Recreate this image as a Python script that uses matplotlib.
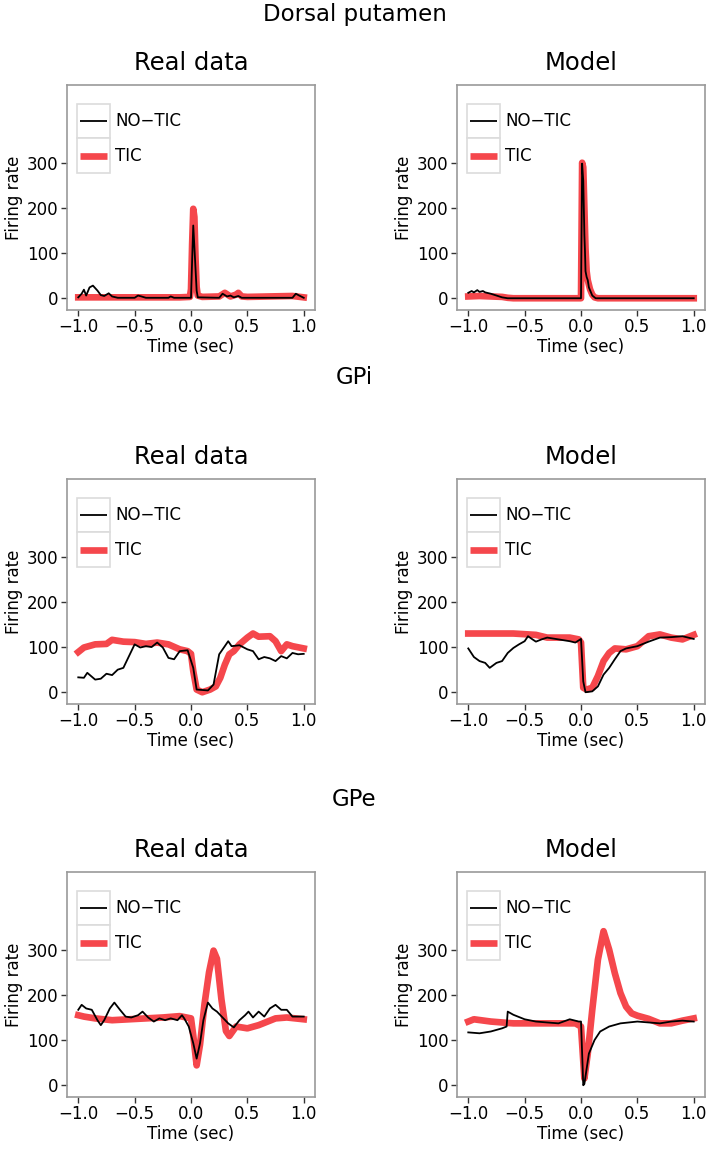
import matplotlib
matplotlib.use("Agg")
import matplotlib.pyplot as plt
from matplotlib.legend_handler import HandlerBase
from matplotlib.patches import Rectangle
from matplotlib.lines import Line2D

plt.rcParams['font.family'] = ['DejaVu Sans']

RED = '#F5474C'
GRAY = '#9a9a9a'

row_titles = ["Dorsal putamen", "GPi", "GPe"]
col_titles = ["Real data", "Model"]

# ---------------- Dorsal putamen ----------------
put_real_tic_x = [-1.0, -0.5, -0.1, -0.01, 0.0, 0.01, 0.02, 0.03, 0.04, 0.05, 0.06, 0.1,
                  0.25, 0.3, 0.35, 0.4, 0.42, 0.45, 0.5, 0.7, 0.9, 1.0]
put_real_tic_y = [2, 2, 2, 3, 20, 120, 198, 180, 90, 25, 6, 3,
                  4, 12, 4, 8, 12, 4, 3, 4, 5, 2]
put_real_no_x = [-1.0, -0.97, -0.95, -0.93, -0.9, -0.87, -0.83, -0.8, -0.77, -0.73, -0.7, -0.65,
                 -0.5, -0.47, -0.44, -0.4, -0.2, -0.18, -0.15, 0.0, 0.01, 0.02, 0.035, 0.05,
                 0.06, 0.25, 0.28, 0.32, 0.35, 0.38, 0.42, 0.45, 0.9, 0.93, 0.96, 1.0]
put_real_no_y = [2, 10, 19, 6, 24, 28, 17, 7, 5, 11, 4, 1,
                 1, 6, 4, 1, 1, 4, 1, 1, 84, 161, 90, 17,
                 2, 1, 10, 4, 6, 2, 5, 1, 1, 10, 6, 1]

put_model_tic_x = [-1.0, -0.9, -0.8, -0.7, -0.65, -0.6, 0.0, 0.005, 0.01, 0.02, 0.03, 0.04,
                   0.05, 0.06, 0.08, 0.1, 0.12, 0.15, 1.0]
put_model_tic_y = [4, 5, 4, 3, 1, 0, 0, 150, 300, 290, 200, 110,
                   60, 40, 20, 8, 2, 0, 0]
put_model_no_x = [-1.0, -0.97, -0.95, -0.92, -0.9, -0.87, -0.85, -0.8, -0.75, -0.7, -0.65, 0.0,
                  0.005, 0.01, 0.02, 0.03, 0.035, 0.04, 0.05, 0.06, 0.07, 0.1, 0.13, 1.0]
put_model_no_y = [12, 16, 13, 18, 14, 16, 13, 10, 6, 2, 0, 0,
                  150, 298, 260, 140, 106, 60, 47, 40, 24, 6, 0, 0]

# ---------------- GPi ----------------
gpi_real_tic_x = [-1, -0.95, -0.85, -0.75, -0.7, -0.6, -0.5, -0.4, -0.3, -0.2, -0.1, -0.03,
                  0.0, 0.02, 0.05, 0.1, 0.17, 0.22, 0.26, 0.3, 0.34, 0.38, 0.43, 0.5,
                  0.55, 0.6, 0.7, 0.75, 0.8, 0.85, 0.9, 1.0]
gpi_real_tic_y = [89, 99, 106, 107, 116, 112, 111, 107, 110, 106, 95, 91,
                  85, 47, 6, 0, 6, 13, 32, 61, 84, 91, 106, 121,
                  130, 123, 124, 113, 91, 106, 102, 97]
gpi_real_no_x = [-1, -0.95, -0.92, -0.85, -0.8, -0.75, -0.7, -0.65, -0.6, -0.55, -0.5, -0.45,
                 -0.4, -0.35, -0.3, -0.25, -0.2, -0.15, -0.1, -0.03, 0.02, 0.05, 0.15, 0.2,
                 0.25, 0.3, 0.33, 0.36, 0.43, 0.5, 0.55, 0.6, 0.65, 0.7, 0.75, 0.8,
                 0.85, 0.9, 0.95, 1.0]
gpi_real_no_y = [33, 32, 43, 28, 30, 41, 38, 50, 54, 80, 106, 99,
                 102, 100, 110, 99, 76, 73, 91, 93, 54, 6, 4, 17,
                 84, 102, 113, 102, 104, 95, 91, 73, 78, 75, 69, 80,
                 75, 87, 84, 85]

gpi_model_tic_x = [-1, -0.8, -0.6, -0.4, -0.3, -0.1, -0.02, 0.0, 0.02, 0.05, 0.1, 0.15,
                   0.2, 0.25, 0.3, 0.4, 0.5, 0.6, 0.7, 0.8, 0.9, 1.0]
gpi_model_tic_y = [130, 130, 130, 127, 121, 121, 117, 110, 10, 6, 10, 36,
                   69, 87, 97, 95, 102, 124, 128, 121, 117, 127]
gpi_model_no_x = [-1, -0.95, -0.9, -0.85, -0.81, -0.75, -0.7, -0.65, -0.6, -0.55, -0.5, -0.47,
                  -0.43, -0.4, -0.35, -0.3, -0.2, -0.1, -0.05, 0.0, 0.02, 0.04, 0.1, 0.15,
                  0.2, 0.25, 0.3, 0.35, 0.4, 0.5, 0.6, 0.7, 0.8, 0.9, 1.0]
gpi_model_no_y = [97, 78, 69, 65, 54, 65, 69, 87, 98, 106, 113, 124,
                  117, 112, 117, 121, 117, 113, 110, 118, 24, 0, 2, 13,
                  39, 54, 73, 91, 97, 102, 112, 121, 122, 124, 118]

# ---------------- GPe ----------------
gpe_real_tic_x = [-1, -0.95, -0.85, -0.7, -0.55, -0.4, -0.25, -0.1, 0.0, 0.02, 0.05, 0.08,
                  0.12, 0.16, 0.2, 0.23, 0.27, 0.31, 0.34, 0.4, 0.5, 0.6, 0.75, 0.85, 1.0]
gpe_real_tic_y = [155, 152, 148, 144, 146, 148, 150, 153, 148, 110, 44, 90,
                  180, 250, 298, 280, 190, 120, 109, 130, 126, 133, 148, 150, 146]
gpe_real_no_x = [-1, -0.97, -0.93, -0.88, -0.83, -0.8, -0.77, -0.72, -0.68, -0.63, -0.58, -0.53,
                 -0.47, -0.43, -0.38, -0.33, -0.28, -0.23, -0.18, -0.12, -0.08, -0.06, -0.02, 0.02,
                 0.05, 0.08, 0.11, 0.15, 0.19, 0.23, 0.28, 0.33, 0.38, 0.43, 0.48, 0.51,
                 0.55, 0.6, 0.65, 0.7, 0.75, 0.8, 0.85, 0.9, 1.0]
gpe_real_no_y = [167, 178, 170, 167, 144, 133, 144, 170, 183, 167, 152, 150,
                 155, 163, 150, 141, 148, 144, 148, 144, 155, 148, 130, 93,
                 59, 93, 144, 183, 170, 163, 150, 137, 128, 144, 155, 163,
                 150, 163, 152, 170, 178, 167, 167, 152, 152]

gpe_model_tic_x = [-1, -0.95, -0.8, -0.6, -0.4, -0.2, -0.05, 0.0, 0.03, 0.06, 0.1, 0.15,
                   0.2, 0.25, 0.3, 0.35, 0.4, 0.45, 0.5, 0.6, 0.7, 0.8, 0.9, 1.0]
gpe_model_tic_y = [141, 146, 141, 137, 137, 137, 137, 130, 15, 70, 167, 278,
                   341, 300, 248, 204, 174, 159, 154, 147, 137, 137, 143, 148]
gpe_model_no_x = [-1, -0.9, -0.8, -0.7, -0.66, -0.65, -0.6, -0.5, -0.4, -0.3, -0.2, -0.1,
                  -0.02, 0.0, 0.02, 0.03, 0.07, 0.12, 0.17, 0.25, 0.35, 0.5, 0.6, 0.7,
                  0.8, 0.9, 1.0]
gpe_model_no_y = [117, 115, 119, 126, 130, 163, 156, 146, 141, 139, 137, 146,
                  141, 141, 0, 3, 70, 100, 119, 130, 137, 141, 139, 137,
                  141, 143, 141]

panels = [
    [(put_real_tic_x, put_real_tic_y, put_real_no_x, put_real_no_y),
     (put_model_tic_x, put_model_tic_y, put_model_no_x, put_model_no_y)],
    [(gpi_real_tic_x, gpi_real_tic_y, gpi_real_no_x, gpi_real_no_y),
     (gpi_model_tic_x, gpi_model_tic_y, gpi_model_no_x, gpi_model_no_y)],
    [(gpe_real_tic_x, gpe_real_tic_y, gpe_real_no_x, gpe_real_no_y),
     (gpe_model_tic_x, gpe_model_tic_y, gpe_model_no_x, gpe_model_no_y)],
]


class BoxedKey(HandlerBase):
    # ggplot-like legend key: light grey square with the line inside
    def create_artists(self, legend, orig_handle, xdescent, ydescent,
                       width, height, fontsize, trans):
        rect = Rectangle((-xdescent, -ydescent), width, height,
                         facecolor='white', edgecolor='#dcdcdc', lw=1.2,
                         transform=trans)
        yc = -ydescent + height / 2
        line = Line2D([-xdescent + 0.1 * width, -xdescent + 0.9 * width], [yc, yc],
                      color=orig_handle.get_color(), lw=orig_handle.get_linewidth(),
                      solid_capstyle='butt', transform=trans)
        return [rect, line]


W, H = 709, 1149
fig = plt.figure(figsize=(W / 100, H / 100), dpi=100)

lefts = [67, 457]
tops = [85, 479, 872]
row_title_y = [14, 378, 800]
ax_w, ax_h = 248, 225
FS = 12

for r in range(3):
    fig.text(0.5, 1 - row_title_y[r] / H, row_titles[r], ha='center', va='center', fontsize=16.5)
    for c in range(2):
        tx, ty, nx, ny = panels[r][c]
        ax = fig.add_axes([lefts[c] / W, 1 - (tops[r] + ax_h) / H, ax_w / W, ax_h / H])
        ax.plot(tx, ty, color=RED, lw=4.8, solid_joinstyle='round', label='TIC')
        ax.plot(nx, ny, color='black', lw=1.3, label='NO\u2212TIC')
        ax.set_xlim(-1.1, 1.1)
        ax.set_ylim(-26, 472)
        ax.set_xticks([-1.0, -0.5, 0.0, 0.5, 1.0])
        ax.set_xticklabels(['\u22121.0', '\u22120.5', '0.0', '0.5', '1.0'])
        ax.set_yticks([0, 100, 200, 300])
        ax.tick_params(labelsize=FS, length=4, width=1, color='#333333', pad=2)
        for s in ax.spines.values():
            s.set_color(GRAY)
            s.set_linewidth(1.2)
        ax.set_xlabel('Time (sec)', fontsize=FS, labelpad=1)
        ax.set_ylabel('Firing rate', fontsize=FS, labelpad=3)
        ax.set_title(col_titles[c], fontsize=17.5, pad=11)
        handles, labels = ax.get_legend_handles_labels()
        ax.legend(handles[::-1], labels[::-1], loc='upper left',
                  bbox_to_anchor=(10 / ax_w, 1 - 19 / ax_h),
                  handler_map={Line2D: BoxedKey()}, frameon=False,
                  borderaxespad=0, borderpad=0, labelspacing=0,
                  handlelength=2.0, handleheight=2.8, handletextpad=0.3,
                  fontsize=FS)

fig.savefig('out.png', dpi=100)
